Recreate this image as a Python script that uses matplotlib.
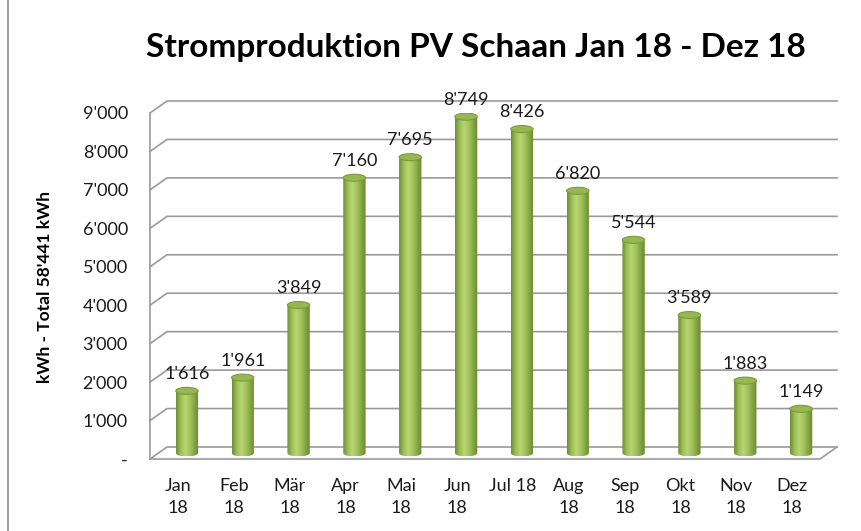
import numpy as np
import matplotlib
matplotlib.use("Agg")
import matplotlib.pyplot as plt
from matplotlib.patches import Ellipse, Polygon
from matplotlib.lines import Line2D
from matplotlib.colors import LinearSegmentedColormap

plt.rcParams['font.family'] = ['Lato', 'DejaVu Sans']

months = ["Jan\n18", "Feb\n18", "Mär\n18", "Apr\n18", "Mai\n18", "Jun\n18",
          "Jul 18", "Aug\n18", "Sep\n18", "Okt\n18", "Nov\n18", "Dez\n18"]
values = [1616, 1961, 3849, 7160, 7695, 8749, 8426, 6820, 5544, 3589, 1883, 1149]
yticks = [0, 1000, 2000, 3000, 4000, 5000, 6000, 7000, 8000, 9000]
ytick_labels = ["-", "1'000", "2'000", "3'000", "4'000", "5'000", "6'000",
                "7'000", "8'000", "9'000"]
title = "Stromproduktion PV Schaan Jan 18 - Dez 18"
ylabel = "kWh - Total 58'441 kWh"

W, H, DPI = 861, 531, 100
fig = plt.figure(figsize=(W / DPI, H / DPI), dpi=DPI)
fig.patch.set_facecolor("white")

# front plane of the 3D box (pixels)
ax_l, ax_r, ax_b, ax_t = 150, 820, 72, 418
ax = fig.add_axes([ax_l / W, ax_b / H, (ax_r - ax_l) / W, (ax_t - ax_b) / H])
ax.set_xlim(-0.5, len(values) - 0.5)
ax.set_ylim(0, 9000)
ax.patch.set_alpha(0)
for s in ax.spines.values():
    s.set_visible(False)

px_x = (len(values)) / (ax_r - ax_l)     # data units per pixel (x)
px_y = 9000 / (ax_t - ax_b)              # data units per pixel (y)
depth_dx, depth_dy = 17 * px_x, 12 * px_y
bar_dx, bar_dy = 9 * px_x, 6 * px_y

grid_c = "#9a9a9a"
x0, x1 = -0.5, len(values) - 0.5
for v in yticks:
    ax.add_line(Line2D([x0, x0 + depth_dx, x1 + depth_dx], [v, v + depth_dy, v + depth_dy],
                       color=grid_c, lw=1.2, clip_on=False, zorder=1))
ax.add_line(Line2D([x0, x0], [0, 9000], color=grid_c, lw=1.2, clip_on=False, zorder=1))
ax.add_line(Line2D([x0, x1, x1 + depth_dx], [0, 0, depth_dy],
                   color=grid_c, lw=1.2, clip_on=False, zorder=1))

cmap = LinearSegmentedColormap.from_list(
    "cyl", ["#6f8e33", "#9cbd58", "#b7d670", "#a5c460", "#86a744", "#6a8830"])
grad = np.linspace(0, 1, 64).reshape(1, -1)

bw = 0.40
eh = 3.5 * px_y
t = np.linspace(np.pi, 2 * np.pi, 40)
for i, v in enumerate(values):
    xc = i + bar_dx
    yb = bar_dy
    yt = v + bar_dy
    xl, xr = xc - bw / 2, xc + bw / 2
    bx = xc + (bw / 2) * np.cos(t)
    by = yb + eh * np.sin(t)
    pts = np.vstack([np.column_stack([bx, by]),
                     np.column_stack([[xr], [yt]]),
                     np.column_stack([[xl], [yt]])])
    poly = Polygon(pts, closed=True, facecolor="none", edgecolor="none")
    ax.add_patch(poly)
    im = ax.imshow(grad, cmap=cmap, extent=[xl, xr, yb - eh, yt], aspect="auto",
                   zorder=3, interpolation="bilinear")
    im.set_clip_path(poly)
    top = Ellipse((xc, yt), bw, 2 * eh, facecolor="#95b853", edgecolor="#7a9a3a",
                  lw=0.8, zorder=4)
    ax.add_patch(top)
    lab = f"{v:,}".replace(",", "'")
    ax.text(xc, v + 23 * px_y, lab, ha="center", va="center", fontsize=13,
            color="#1a1a1a", zorder=5)

ax.set_xlim(-0.5, len(values) - 0.5)
ax.set_ylim(0, 9000)

ax.set_xticks(range(len(values)))
ax.set_xticklabels(months, fontsize=13, linespacing=1.4, color="#1a1a1a")
ax.tick_params(axis="x", length=0, pad=14)
ax.set_yticks(yticks)
ax.set_yticklabels(ytick_labels, fontsize=13, color="#1a1a1a")
ax.tick_params(axis="y", length=0, pad=16)

fig.text(476 / W, 1 - 47 / H, title, ha="center", va="center", fontsize=24,
         fontweight="bold", color="#000000")
fig.text(45 / W, 1 - 287 / H, ylabel, ha="center", va="center", rotation=90,
         fontsize=12.5, fontweight="bold", color="#000000")

fig.add_artist(Line2D([8 / W, 8 / W], [0, 1], transform=fig.transFigure,
                      color="#8c8c8c", lw=1.2))

fig.savefig("out.png", dpi=DPI)
